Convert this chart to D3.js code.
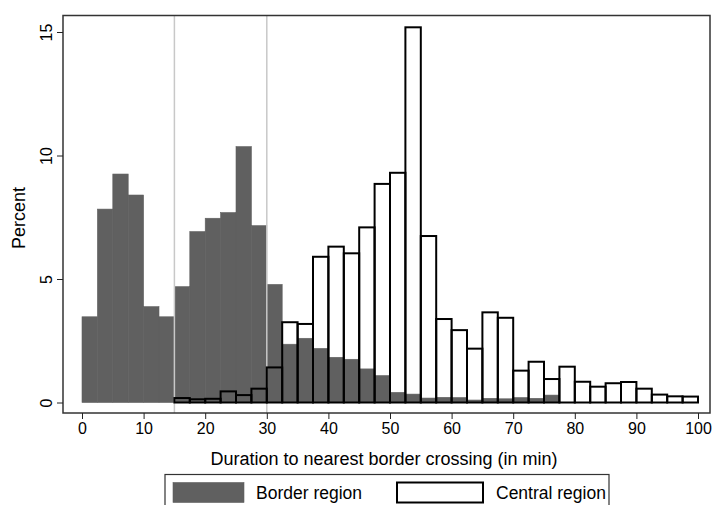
<!doctype html>
<html>
  <head>
    <script src="https://cdnjs.cloudflare.com/ajax/libs/d3/7.8.5/d3.min.js"></script>
    <style>
      body { margin: 0; background: #fff; }
      svg { font-family: "Liberation Sans", Arial, sans-serif; }
      rect.border { fill: #606060; stroke: #606060; stroke-width: 0.6; }
      rect.central { fill: none; stroke: #000; stroke-width: 2; }
      line.ref { stroke: #c8c8c8; stroke-width: 1.5; }
      .axis text { font-size: 16px; fill: #000; }
      .axis path { display: none; }
      .axis line { stroke: #222; }
      .title { font-size: 18px; }
    </style>
  </head>
  <body>
    <svg width="713" height="505"></svg>
    <script>
      // histogram bins of 2.5 min, starting at 0
      var binWidth = 2.5;
      var borderPct = [3.47, 7.83, 9.25, 8.40, 3.88, 3.47, 4.69, 6.92, 7.46, 7.69,
                       10.36, 7.16, 4.78, 2.36, 2.60, 2.19, 1.83, 1.75, 1.36, 1.09,
                       0.41, 0.34, 0.18, 0.21, 0.20, 0.10, 0.17, 0.15, 0.20, 0.17,
                       0.30, 0, 0, 0, 0, 0, 0, 0, 0, 0];
      var centralPct = [0, 0, 0, 0, 0, 0, 0.18, 0.13, 0.15, 0.45,
                        0.30, 0.56, 1.42, 3.25, 3.18, 5.90, 6.31, 6.04, 7.09, 8.85,
                        9.30, 15.19, 6.74, 3.38, 2.93, 2.18, 3.65, 3.43, 1.29, 1.65,
                        0.95, 1.45, 0.84, 0.64, 0.78, 0.83, 0.56, 0.32, 0.25, 0.24];
      var xTicks = [0, 10, 20, 30, 40, 50, 60, 70, 80, 90, 100];
      var yTicks = [0, 5, 10, 15];
      var refLines = [15, 30];
      var legendLabels = ["Border region", "Central region"];

      var svg = d3.select("svg");
      var x = d3.scaleLinear().domain([0, 100]).range([82, 698]);
      var y = d3.scaleLinear().domain([0, 15]).range([402.5, 32]);

      var frame = {left: 63, top: 15.5, right: 710, bottom: 413};

      var toBins = arr => arr.map((v, i) => ({x0: i * binWidth, x1: (i + 1) * binWidth, v: v}))
        .filter(d => d.v > 0);

      svg.selectAll("rect.border")
        .data(toBins(borderPct))
        .enter().append("rect")
          .attr("class", "border")
          .attr("x", d => x(d.x0))
          .attr("width", d => x(d.x1) - x(d.x0))
          .attr("y", d => y(d.v))
          .attr("height", d => y(0) - y(d.v));

      svg.selectAll("line.ref")
        .data(refLines)
        .enter().append("line")
          .attr("class", "ref")
          .attr("x1", d => x(d)).attr("x2", d => x(d))
          .attr("y1", frame.top).attr("y2", frame.bottom);

      svg.selectAll("rect.central")
        .data(toBins(centralPct))
        .enter().append("rect")
          .attr("class", "central")
          .attr("x", d => x(d.x0))
          .attr("width", d => x(d.x1) - x(d.x0))
          .attr("y", d => y(d.v))
          .attr("height", d => y(0) - y(d.v));

      // plot frame
      svg.append("rect")
        .attr("x", frame.left).attr("y", frame.top)
        .attr("width", frame.right - frame.left)
        .attr("height", frame.bottom - frame.top)
        .attr("fill", "none").attr("stroke", "#333").attr("stroke-width", 1.5);

      svg.append("g")
        .attr("class", "axis")
        .attr("transform", "translate(0," + frame.bottom + ")")
        .call(d3.axisBottom(x).tickValues(xTicks).tickSize(6).tickPadding(4));

      var yAxis = svg.append("g")
        .attr("class", "axis")
        .attr("transform", "translate(" + frame.left + ",0)")
        .call(d3.axisLeft(y).tickValues(yTicks).tickSize(6).tickPadding(0));
      yAxis.selectAll("text")
        .attr("text-anchor", "middle")
        .attr("transform", "translate(-17,0) rotate(-90)")
        .attr("x", 0).attr("y", 0).attr("dy", "0.35em");

      svg.append("text")
        .attr("class", "title")
        .attr("transform", "translate(25,218) rotate(-90)")
        .attr("text-anchor", "middle")
        .text("Percent");

      svg.append("text")
        .attr("class", "title")
        .attr("x", 384).attr("y", 465)
        .attr("text-anchor", "middle")
        .text("Duration to nearest border crossing (in min)");

      // legend
      var lg = svg.append("g");
      lg.append("rect")
        .attr("x", 165).attr("y", 474.5).attr("width", 444).attr("height", 40)
        .attr("fill", "#fff").attr("stroke", "#333").attr("stroke-width", 1.2);
      lg.append("rect")
        .attr("class", "border")
        .attr("x", 173).attr("y", 482.5).attr("width", 71).attr("height", 20);
      lg.append("rect")
        .attr("x", 397).attr("y", 482.5).attr("width", 86).attr("height", 20)
        .attr("fill", "#fff").attr("stroke", "#000").attr("stroke-width", 2);
      lg.selectAll("text.lbl")
        .data(legendLabels)
        .enter().append("text")
          .attr("class", "lbl")
          .attr("x", (d, i) => i === 0 ? 256 : 496)
          .attr("y", 499)
          .style("font-size", "17.5px")
          .text(d => d);
    </script>
  </body>
</html>
